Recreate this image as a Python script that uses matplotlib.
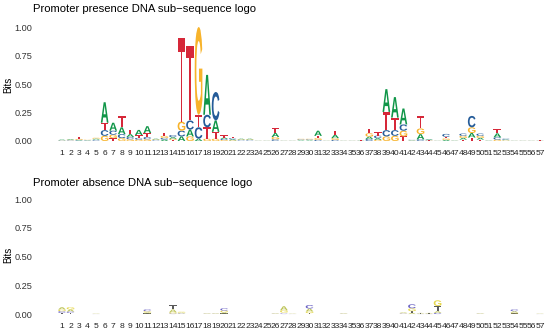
import numpy as np
import matplotlib
matplotlib.use("Agg")
import matplotlib.pyplot as plt
from matplotlib.textpath import TextPath
from matplotlib.patches import PathPatch
from matplotlib.font_manager import FontProperties
from matplotlib.transforms import Affine2D

positions = list(range(1, 58))
letters = ["A", "C", "G", "T"]

# presence logo: bits per letter at each position
presence_A = [0.005, 0.006, 0.005, 0.003, 0.008, 0.18, 0.07, 0.06, 0.025, 0.045,
              0.06, 0.006, 0.012, 0.014, 0.04, 0.06, 0.02, 0.35, 0.10, 0.012,
              0.008, 0.006, 0.006, 0.001, 0.001, 0.035, 0.001, 0.001, 0.005, 0.005,
              0.045, 0.001, 0.03, 0.001, 0.001, 0.002, 0.02, 0.015, 0.20, 0.18,
              0.14, 0.003, 0.045, 0.006, 0.001, 0.01, 0.002, 0.015, 0.04, 0.015,
              0.002, 0.035, 0.005, 0.001, 0.001, 0.001, 0.001]
presence_C = [0.003, 0.004, 0.005, 0.003, 0.006, 0.05, 0.035, 0.035, 0.02, 0.015,
              0.02, 0.005, 0.015, 0.018, 0.05, 0.08, 0.10, 0.11, 0.25, 0.01,
              0.01, 0.005, 0.005, 0.001, 0.001, 0.015, 0.001, 0.001, 0.005, 0.005,
              0.01, 0.001, 0.01, 0.001, 0.001, 0.001, 0.018, 0.022, 0.055, 0.05,
              0.055, 0.003, 0.015, 0.004, 0.001, 0.025, 0.001, 0.02, 0.10, 0.02,
              0.001, 0.02, 0.008, 0.001, 0.001, 0.001, 0.001]
presence_G = [0.002, 0.004, 0.008, 0.003, 0.008, 0.045, 0.03, 0.025, 0.015, 0.012,
              0.015, 0.005, 0.018, 0.012, 0.08, 0.04, 0.77, 0.02, 0.02, 0.008,
              0.006, 0.005, 0.005, 0.001, 0.001, 0.02, 0.001, 0.001, 0.005, 0.005,
              0.015, 0.001, 0.015, 0.001, 0.001, 0.001, 0.03, 0.01, 0.04, 0.045,
              0.05, 0.002, 0.05, 0.003, 0.001, 0.012, 0.001, 0.018, 0.05, 0.018,
              0.001, 0.012, 0.004, 0.001, 0.001, 0.001, 0.001]
presence_T = [0.002, 0.003, 0.015, 0.002, 0.006, 0.065, 0.025, 0.10, 0.04, 0.025,
              0.035, 0.004, 0.025, 0.008, 0.73, 0.65, 0.11, 0.10, 0.06, 0.02,
              0.012, 0.004, 0.004, 0.001, 0.001, 0.04, 0.001, 0.001, 0.004, 0.004,
              0.02, 0.001, 0.035, 0.001, 0.001, 0.002, 0.04, 0.03, 0.16, 0.11,
              0.04, 0.002, 0.11, 0.003, 0.001, 0.015, 0.001, 0.012, 0.03, 0.012,
              0.001, 0.04, 0.003, 0.001, 0.001, 0.001, 0.008]

# absence logo
absence_A = [0.02, 0.018, 0, 0, 0.002, 0, 0, 0, 0, 0,
             0.008, 0, 0, 0.025, 0.006, 0, 0, 0.003, 0.003, 0.01,
             0, 0, 0, 0, 0, 0.003, 0.035, 0.002, 0, 0.025,
             0, 0, 0, 0.003, 0, 0, 0, 0, 0, 0,
             0.005, 0.01, 0.004, 0.004, 0.015, 0, 0, 0, 0, 0.003,
             0, 0, 0, 0.012, 0, 0, 0.002]
absence_C = [0.015, 0.012, 0, 0, 0.001, 0, 0, 0, 0, 0,
             0.015, 0, 0, 0.005, 0.004, 0, 0, 0.002, 0.002, 0.02,
             0, 0, 0, 0, 0, 0.002, 0.005, 0.001, 0, 0.03,
             0, 0, 0, 0.002, 0, 0, 0, 0, 0, 0,
             0.004, 0.035, 0.002, 0.002, 0.01, 0, 0, 0, 0, 0.002,
             0, 0, 0, 0.015, 0, 0, 0.001]
absence_G = [0.015, 0.02, 0, 0, 0.001, 0, 0, 0, 0, 0,
             0.012, 0, 0, 0.01, 0.008, 0, 0, 0.002, 0.002, 0.015,
             0, 0, 0, 0, 0, 0.002, 0.02, 0.001, 0, 0.015,
             0, 0, 0, 0.002, 0, 0, 0, 0, 0, 0,
             0.004, 0.025, 0.002, 0.002, 0.05, 0, 0, 0, 0, 0.002,
             0, 0, 0, 0.008, 0, 0, 0.001]
absence_T = [0.01, 0.01, 0, 0, 0.001, 0, 0, 0, 0, 0,
             0.005, 0, 0, 0.035, 0.002, 0, 0, 0.001, 0.001, 0.005,
             0, 0, 0, 0, 0, 0.001, 0.008, 0.001, 0, 0.008,
             0, 0, 0, 0.001, 0, 0, 0, 0, 0, 0,
             0.002, 0.015, 0.002, 0.002, 0.045, 0, 0, 0, 0, 0.001,
             0, 0, 0, 0.005, 0, 0, 0.001]

presence_colors = {"A": "#109648", "C": "#255C99", "G": "#F7B32B", "T": "#D62839"}
absence_colors = {"A": "#BDC458", "C": "#6A62C4", "G": "#E6D84E", "T": "#5A5A5A"}

font = FontProperties(family="Liberation Sans", weight="bold")
glyphs = {l: TextPath((0, 0), l, size=1, prop=font) for l in letters}


def draw_letter(ax, letter, x, y, h, color, width=0.9):
    path = glyphs[letter]
    ext = path.get_extents()
    tr = (Affine2D().translate(-ext.x0, -ext.y0)
          .scale(width / ext.width, h / ext.height)
          .translate(x - width / 2, y))
    ax.add_patch(PathPatch(tr.transform_path(path), facecolor=color,
                           edgecolor="none", lw=0))


def draw_logo(ax, heights, colors):
    for i, pos in enumerate(positions):
        col = sorted([(heights[l][i], l) for l in letters])
        y = 0.0
        for h, l in col:
            if h <= 0:
                continue
            draw_letter(ax, l, pos, y, h, colors[l])
            y += h


fig = plt.figure(figsize=(5.5, 3.33), dpi=100)
ax1 = fig.add_axes([0.1049, 0.5664, 0.8847, 0.3729])
ax2 = fig.add_axes([0.1049, 0.0465, 0.8847, 0.3766])

draw_logo(ax1, {"A": presence_A, "C": presence_C, "G": presence_G, "T": presence_T},
          presence_colors)
draw_logo(ax2, {"A": absence_A, "C": absence_C, "G": absence_G, "T": absence_T},
          absence_colors)

for ax in (ax1, ax2):
    ax.set_xlim(0.5, 57.5)
    ax.set_ylim(-0.03, 1.06)
    ax.set_xticks(positions)
    ax.set_xticklabels([str(p) for p in positions], fontsize=6.1,
                       family="Liberation Sans", color="#222222")
    ax.set_yticks([0, 0.25, 0.5, 0.75, 1.0])
    ax.set_yticklabels(["0.00", "0.25", "0.50", "0.75", "1.00"], fontsize=6.6,
                       family="Liberation Sans", color="#333333")
    ax.tick_params(axis="both", length=0)
    ax.tick_params(axis="x", pad=4)
    ax.tick_params(axis="y", pad=18)
    for s in ax.spines.values():
        s.set_visible(False)

fig.text(33 / 550, 1 - 9 / 333, "Promoter presence DNA sub\u2212sequence logo",
         fontsize=8.1, family="Liberation Sans", va="center", ha="left")
fig.text(33 / 550, 1 - 183 / 333, "Promoter absence DNA sub\u2212sequence logo",
         fontsize=8.1, family="Liberation Sans", va="center", ha="left")
fig.text(8 / 550, 1 - 85 / 333, "Bits", fontsize=7, family="Liberation Sans",
         rotation=90, va="center", ha="center")
fig.text(8 / 550, 1 - 255 / 333, "Bits", fontsize=7, family="Liberation Sans",
         rotation=90, va="center", ha="center")

fig.savefig("out.png", dpi=100)
